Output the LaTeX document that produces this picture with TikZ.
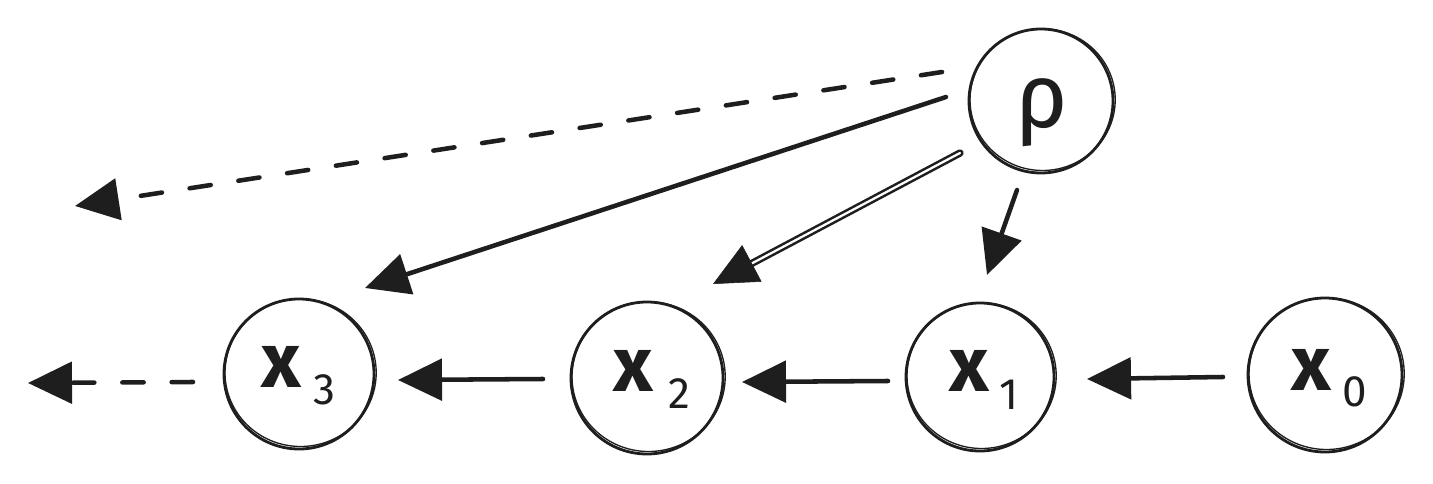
\documentclass[tikz,border=0pt]{standalone}
\usepackage{fontspec}
\setmainfont{Fira Sans}
\usetikzlibrary{arrows.meta,calc}
\definecolor{ink}{HTML}{1E1E1E}
\tikzset{
  ring/.style={circle,draw=ink,line width=2.1pt,inner sep=0pt},
  ringtwo/.style={draw=ink,line width=1pt},
  arr/.style={draw=ink,line width=3.4pt,line cap=round,-{Triangle[length=33pt,width=31pt]}},
  dasharr/.style={arr,dash pattern=on 16pt off 21pt},
  dblline/.style={draw=ink,double=white,line width=1.9pt,double distance=1.7pt,line cap=round},
  bigx/.style={font=\fontsize{58}{60}\selectfont\bfseries,text=ink,inner sep=0pt},
  subx/.style={font=\fontsize{33}{34}\selectfont,text=ink,inner sep=0pt},
  rholab/.style={font=\fontsize{68}{70}\selectfont,text=ink,inner sep=0pt}
}
\newcommand\skring[4]{%
  \node[ring,minimum size=#4*1.5pt] (#1) at (#2,#3) {};
  \draw[ringtwo] (#2+1.6,#3-1.3) ellipse[x radius=#4+0.6, y radius=#4-1.2];
}
\begin{document}
\begin{tikzpicture}[x=0.75pt,y=-0.75pt]
\useasboundingbox[fill=white] (0,0) rectangle (1433,484);

% circles
\skring{p}{1041}{101}{72}
\skring{x3}{299}{374}{75}
\skring{x2}{647}{378}{76}
\skring{x1}{980}{377}{74}
\skring{x0}{1325}{375}{77}

% labels
\node[rholab] (pt) at (1042,113) {ρ};
\node[bigx] (x3t) at (281,367) {x};
\node[subx] (x3s) at (324,390) {3};
\node[bigx] (x2t) at (633,371) {x};
\node[subx] (x2s) at (679,394) {2};
\node[bigx] (x1t) at (969,371) {x};
\node[subx] (x1s) at (1009,395) {1};
\node[bigx] (x0t) at (1311,370) {x};
\node[subx] (x0s) at (1355,392) {0};

% connector ends
\coordinate (pd) at (942,72);
\coordinate (pdend) at (75,206);
\coordinate (ps) at (946,97);
\coordinate (x3in) at (365,288);
\coordinate (pdb) at (960,153);
\coordinate (x2in) at (713,284);
\coordinate (pa) at (1017,190);
\coordinate (x1in) at (987,275);
\coordinate (x0out) at (1223,377);
\coordinate (x1inh) at (1087,379);
\coordinate (x1out) at (888,381);
\coordinate (x2inh) at (742,382);
\coordinate (x2out) at (543,379);
\coordinate (x3inh) at (398,380);
\coordinate (x3out) at (193,382);
\coordinate (x3end) at (28,383);

% connectors
\draw[dasharr] (pd) -- (pdend);
\draw[arr] (ps) -- (x3in);
\draw[dblline,shorten >=26pt] (pdb) -- (x2in);
\draw[arr,line width=0.4pt] ($(pdb)!0.86!(x2in)$) -- (x2in);
\draw[arr] (pa) -- (x1in);
\draw[arr] (x0out) -- (x1inh);
\draw[arr] (x1out) -- (x2inh);
\draw[arr] (x2out) -- (x3inh);
\draw[dasharr] (x3out) -- (x3end);
\end{tikzpicture}
\end{document}
